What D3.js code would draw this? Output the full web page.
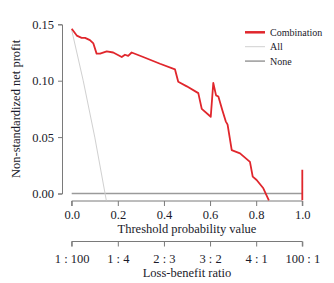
<!DOCTYPE html>
<html>
<head>
<meta charset="utf-8">
<script src="https://cdn.jsdelivr.net/npm/d3@7"></script>
<style>
  body { margin: 0; background: #fff; }
  text { font-family: "Liberation Serif", "DejaVu Serif", serif; fill: #1a1a2a; }
</style>
</head>
<body>
<script>
// threshold / net benefit
const comboX = [0, 0.022, 0.043, 0.058, 0.079, 0.094, 0.108, 0.123, 0.152, 0.18, 0.217, 0.231, 0.245, 0.26,
  0.31, 0.383, 0.448, 0.462, 0.499, 0.549, 0.564, 0.603, 0.614, 0.626, 0.636, 0.653, 0.668, 0.676,
  0.694, 0.73, 0.773, 0.785, 0.802, 0.831, 0.855, null, 1.0, 1.0];
const comboY = [0.146, 0.140, 0.138, 0.138, 0.136, 0.133, 0.124, 0.124, 0.126, 0.125, 0.121, 0.123, 0.122, 0.125,
  0.121, 0.115, 0.110, 0.099, 0.095, 0.089, 0.075, 0.068, 0.098, 0.087, 0.086, 0.074, 0.064, 0.061,
  0.0385, 0.0356, 0.028, 0.015, 0.012, 0.0046, -0.006, null, -0.006, 0.021];
const allX = [0, 0.05, 0.1, 0.15];
const allY = [0.145, 0.100, 0.050, -0.006];
const noneX = [0, 1];
const noneY = [0, 0];

const yTicks = [0, 0.05, 0.10, 0.15];
const xTicks = [0, 0.2, 0.4, 0.6, 0.8, 1.0];
const ratioLabels = ['1 : 100', '1 : 4', '2 : 3', '3 : 2', '4 : 1', '100 : 1'];
const legendNames = ['Combination', 'All', 'None'];

const W = 334, H = 283;
const fs = '12.5px';
const x = d3.scaleLinear().domain([0, 1]).range([71.7, 302.3]);
const y = d3.scaleLinear().domain([0, 0.15]).range([193.5, 24.3]);

const svg = d3.select(document.body).append('svg')
  .attr('width', W)
  .attr('height', H);

const axisColor = '#7a7a7a';

// y axis
const yAxis = svg.append('g')
  .attr('transform', 'translate(62,0)')
  .call(d3.axisLeft(y).tickValues(yTicks).tickFormat(d3.format('.2f')).tickSize(4).tickPadding(4));
yAxis.selectAll('path, line').attr('stroke', axisColor);
yAxis.selectAll('text').style('font-size', fs).attr('font-family', null);

svg.append('text')
  .attr('transform', `translate(16,${(y(0) + y(0.15)) / 2}) rotate(-90)`)
  .attr('text-anchor', 'middle')
  .attr('dy', '0.35em')
  .style('font-size', fs)
  .text('Non-standardized net profit');

// threshold axis
const xAxis = svg.append('g')
  .attr('transform', 'translate(0,201)')
  .call(d3.axisBottom(x).tickValues(xTicks).tickFormat(d3.format('.1f')).tickSize(-5).tickSizeOuter(0).tickPadding(4));
xAxis.selectAll('path, line').attr('stroke', axisColor);
xAxis.selectAll('line').attr('y2', 5);
xAxis.select('path').attr('d', `M${x(0)},5V0H${x(1)}V5`);
xAxis.selectAll('text').style('font-size', fs).attr('y', 14).attr('dy', '0.35em');

svg.append('text')
  .attr('x', x(0.5)).attr('y', 229)
  .attr('text-anchor', 'middle').attr('dy', '0.35em')
  .style('font-size', fs)
  .text('Threshold probability value');

// loss-benefit axis
const rAxis = svg.append('g')
  .attr('transform', 'translate(0,241.5)')
  .call(d3.axisBottom(x).tickValues(xTicks).tickFormat((d, i) => ratioLabels[i]).tickSizeOuter(0));
rAxis.selectAll('path, line').attr('stroke', axisColor);
rAxis.selectAll('line').attr('y2', 5);
rAxis.select('path').attr('d', `M${x(0)},5V0H${x(1)}V5`);
rAxis.selectAll('text').style('font-size', fs).attr('y', 17.5).attr('dy', '0.35em');

svg.append('text')
  .attr('x', x(0.5)).attr('y', 273)
  .attr('text-anchor', 'middle').attr('dy', '0.35em')
  .style('font-size', fs)
  .text('Loss-benefit ratio');

// lines
const line = d3.line()
  .defined(d => d[0] !== null)
  .x(d => x(d[0]))
  .y(d => y(d[1]));

svg.append('path')
  .datum(noneX.map((d, i) => [d, noneY[i]]))
  .attr('d', line)
  .attr('fill', 'none')
  .attr('stroke', '#9a9a9a')
  .attr('stroke-width', 1.5);

svg.append('path')
  .datum(allX.map((d, i) => [d, allY[i]]))
  .attr('d', line)
  .attr('fill', 'none')
  .attr('stroke', '#d0d0d0')
  .attr('stroke-width', 1);

svg.append('path')
  .datum(comboX.map((d, i) => [d, comboY[i]]))
  .attr('d', line)
  .attr('fill', 'none')
  .attr('stroke', '#e0262c')
  .attr('stroke-width', 1.8)
  .attr('stroke-linejoin', 'round');

// legend
const legendStyle = [
  { color: '#e0262c', width: 2.5 },
  { color: '#d0d0d0', width: 1 },
  { color: '#9a9a9a', width: 1.5 }
];
const legend = svg.append('g');
legendNames.forEach((name, i) => {
  const ly = 32.3 + i * 14.4;
  legend.append('line')
    .attr('x1', 245).attr('x2', 265)
    .attr('y1', ly).attr('y2', ly)
    .attr('stroke', legendStyle[i].color)
    .attr('stroke-width', legendStyle[i].width);
  legend.append('text')
    .attr('x', 270).attr('y', ly)
    .attr('dy', '0.35em')
    .style('font-size', '10px')
    .text(name);
});
</script>
</body>
</html>
